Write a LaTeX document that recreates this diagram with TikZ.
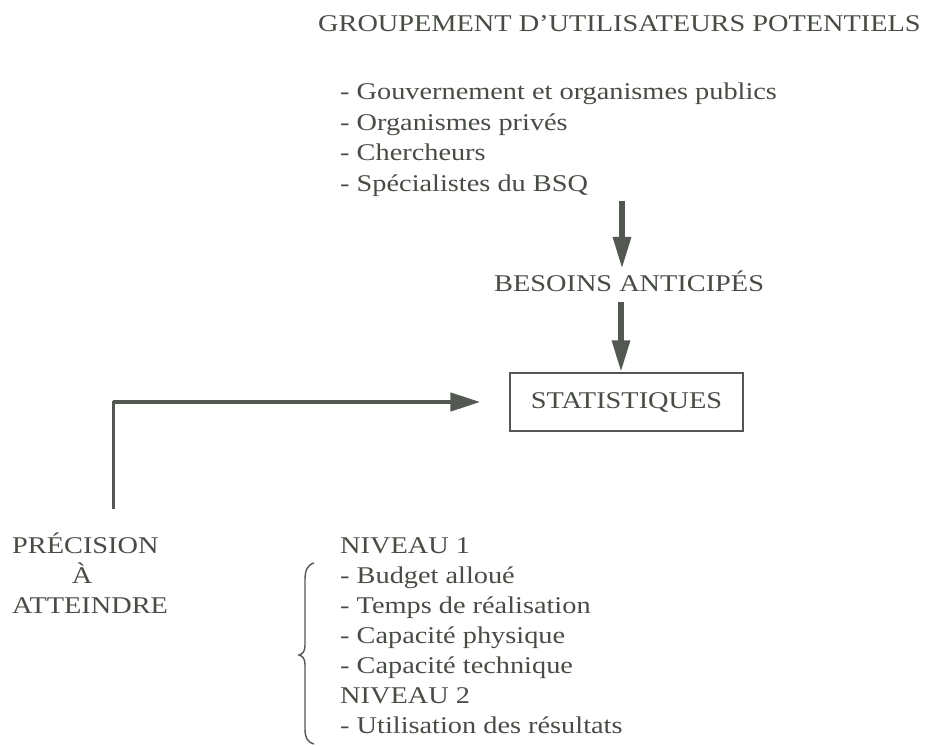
\documentclass[tikz,border=0pt]{standalone}
\usepackage{fontspec}
\setmainfont[FakeStretch=1.18]{Liberation Serif}
\usetikzlibrary{arrows.meta}
\definecolor{ink}{HTML}{474D45}
\definecolor{wire}{HTML}{535952}
\begin{document}
\begin{tikzpicture}[x=1pt,y=-1pt,
  txt/.style={anchor=base west,inner sep=0pt,text=ink,font=\fontsize{24}{28}\selectfont},
  bigarrow/.style={draw=wire,line width=6pt,-{Triangle[length=32pt,width=17pt]}},
  feedarrow/.style={draw=wire,line width=4.5pt,-{Triangle[length=30pt,width=18pt]}},
  feedline/.style={draw=wire,line width=3pt,line cap=rect},
  statbox/.style={draw=wire,line width=1.3pt,inner sep=0pt,minimum width=233pt,minimum height=58pt,text=ink,font=\fontsize{24}{28}\selectfont},
  bracepath/.style={draw=wire,line width=1.4pt}]
\useasboundingbox (0,0) rectangle (935,746);
\fill[white] (0,0) rectangle (935,746);

% users and their needs
\node[txt] (title) at (318,32) {GROUPEMENT D'UTILISATEURS POTENTIELS};
\node[txt] (g1) at (340,100) {- Gouvernement et organismes publics};
\node[txt] (g2) at (340,130.5) {- Organismes privés};
\node[txt] (g3) at (340,161) {- Chercheurs};
\node[txt] (g4) at (340,191.5) {- Spécialistes du BSQ};
\node[txt] (need) at (494,291) {BESOINS ANTICIPÉS};
\node[statbox] (stat) at (626.5,402) {STATISTIQUES};

\coordinate (a1s) at (622,201);
\coordinate (a1e) at (622,269);
\draw[bigarrow] (a1s) -- (a1e);
\coordinate (a2s) at (621,302);
\draw[bigarrow] (a2s) -- (a2s |- stat.north);

% required precision feeding back into the statistics
\node[txt] (p1) at (12,553) {PRÉCISION};
\node[txt,anchor=base] (p2) at (82,583) {À};
\node[txt] (p3) at (12,613) {ATTEINDRE};
\coordinate (fb) at (113,507);
\coordinate (corner) at (fb |- stat.west);
\draw[feedline] (fb) -- (corner);
\draw[feedarrow] (corner) -- ([xshift=-29pt]stat.west);

% constraints by level
\node[txt] (n1) at (340,553) {NIVEAU 1};
\node[txt] (c1) at (340,583) {- Budget alloué};
\node[txt] (c2) at (340,613) {- Temps de réalisation};
\node[txt] (c3) at (340,643) {- Capacité physique};
\node[txt] (c4) at (340,673) {- Capacité technique};
\node[txt] (n2) at (340,703) {NIVEAU 2};
\node[txt] (c5) at (340,733) {- Utilisation des résultats};

\draw[bracepath] (314,563) .. controls (307,565) and (305,571) .. (305,580)
  -- (305,645) .. controls (305,651) and (303,654) .. (299,655)
  .. controls (303,656) and (305,659) .. (305,665)
  -- (305,729) .. controls (305,737) and (307,742) .. (314,744);
\end{tikzpicture}
\end{document}
